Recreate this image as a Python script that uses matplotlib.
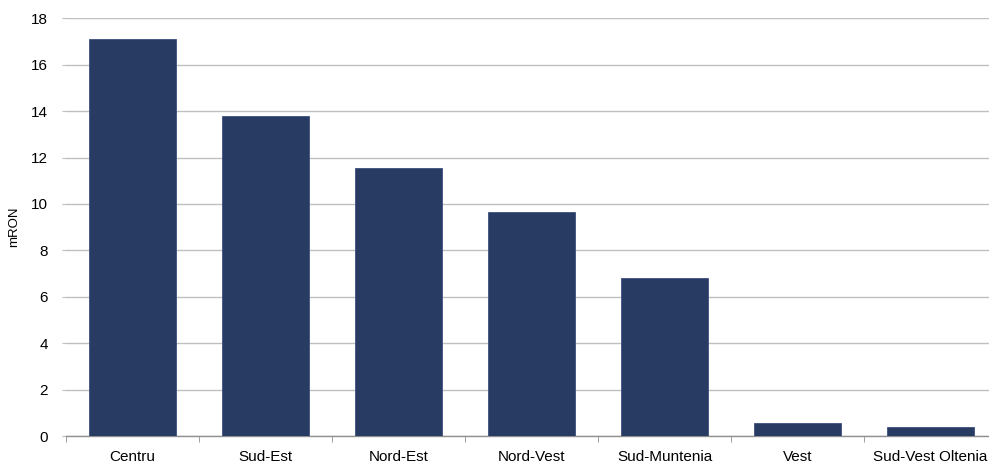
import matplotlib.pyplot as plt
import numpy as np

plt.rcParams["font.family"] = ["Liberation Sans", "DejaVu Sans"]

# regions and values (mRON)
regions = ["Centru", "Sud-Est", "Nord-Est", "Nord-Vest", "Sud-Muntenia", "Vest", "Sud-Vest Oltenia"]
values = [17.1, 13.78, 11.54, 9.67, 6.80, 0.55, 0.38]
y_ticks = [0, 2, 4, 6, 8, 10, 12, 14, 16, 18]

fig = plt.figure(figsize=(9.89, 4.63), dpi=100)
ax = fig.add_axes([0.0667, 0.0583, 0.9414, 0.902])

x = np.arange(len(regions))
ax.bar(x, values, width=0.66, color="#283B63", edgecolor="#3d5080", linewidth=0.6, zorder=3)

ax.set_xlim(-0.5, len(regions) - 0.5)
ax.set_ylim(0, 18)
ax.set_yticks(y_ticks)
ax.set_yticklabels([str(t) for t in y_ticks], fontsize=11)
ax.yaxis.grid(True, color="#c0c0c0", linewidth=1.0, zorder=0)
ax.axhline(18, color="#8c8c8c", linewidth=1.2, zorder=1)

# category labels centred, ticks on boundaries
ax.set_xticks(x)
ax.set_xticklabels(regions, fontsize=11)
ax.tick_params(axis="x", which="major", length=0, pad=10)
ax.set_xticks(np.arange(len(regions) + 1) - 0.5, minor=True)
ax.tick_params(axis="x", which="minor", length=4, color="#909090", direction="out")
ax.tick_params(axis="y", length=3, color="#c0c0c0", pad=10)

for s in ["top", "right", "left"]:
    ax.spines[s].set_visible(False)
ax.spines["bottom"].set_color("#909090")
ax.spines["bottom"].set_linewidth(1.0)

ax.set_ylabel("mRON", fontsize=9.5, labelpad=8)

fig.savefig("out.png", dpi=100)
